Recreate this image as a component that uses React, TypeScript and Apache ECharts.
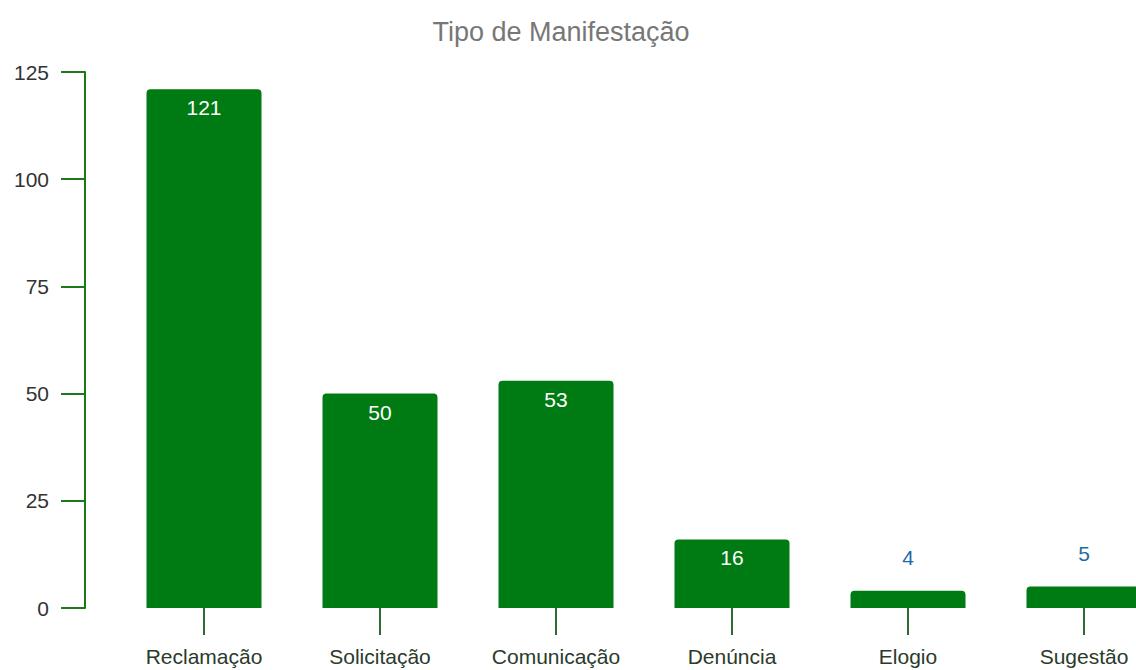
import React, { useEffect, useRef } from "react";
import * as echarts from "echarts";

const categories = ["Reclamação", "Solicitação", "Comunicação", "Denúncia", "Elogio", "Sugestão"];
const values = [121, 50, 53, 16, 4, 5];
const insideThreshold = 10;
const yTicks = { min: 0, max: 125, interval: 25 };
const chartTitle = "Tipo de Manifestação";

export default function App() {
  const ref = useRef<HTMLDivElement>(null);
  useEffect(() => {
    if (!ref.current) return;
    const chart = echarts.init(ref.current, null, { renderer: "svg" });
    const font = "Liberation Sans, Arial, sans-serif";
    chart.setOption({
      animation: false,
      backgroundColor: "#ffffff",
      title: {
        text: chartTitle,
        left: 556,
        top: 13,
        textAlign: "center",
        textStyle: { color: "#777777", fontSize: 27, fontWeight: "normal", fontFamily: font },
      },
      grid: { left: 116, top: 72, width: 1056, height: 536, outerBoundsMode: "none", containLabel: false },
      xAxis: {
        type: "category",
        data: categories,
        axisLine: { show: false },
        axisTick: { show: true, alignWithLabel: true, length: 27, lineStyle: { color: "#2f6a2f", width: 2 } },
        axisLabel: { margin: 38, color: "#2b3b2b", fontSize: 21, fontFamily: font, interval: 0 },
      },
      yAxis: {
        type: "value",
        min: yTicks.min,
        max: yTicks.max,
        interval: yTicks.interval,
        offset: 31,
        splitLine: { show: false },
        axisLine: { show: true, lineStyle: { color: "#1a7a1a", width: 2 } },
        axisTick: { show: true, length: 24, lineStyle: { color: "#1a7a1a", width: 2 } },
        axisLabel: { margin: 36, color: "#333333", fontSize: 21, fontFamily: font },
      },
      series: [
        {
          type: "bar",
          barWidth: 115,
          data: values.map((v) => ({
            value: v,
            label:
              v >= insideThreshold
                ? { show: true, position: "insideTop", distance: 8, color: "#ffffff", fontSize: 21, fontFamily: font }
                : { show: true, position: "top", distance: 23, color: "#1f6aa5", fontSize: 21, fontFamily: font },
          })),
          itemStyle: { color: "#007a12", borderRadius: [4, 4, 0, 0] },
        },
      ],
    });
    return () => chart.dispose();
  }, []);
  return <div ref={ref} style={{ position: "fixed", left: 0, top: 0, width: 1136, height: 670 }} />;
}
